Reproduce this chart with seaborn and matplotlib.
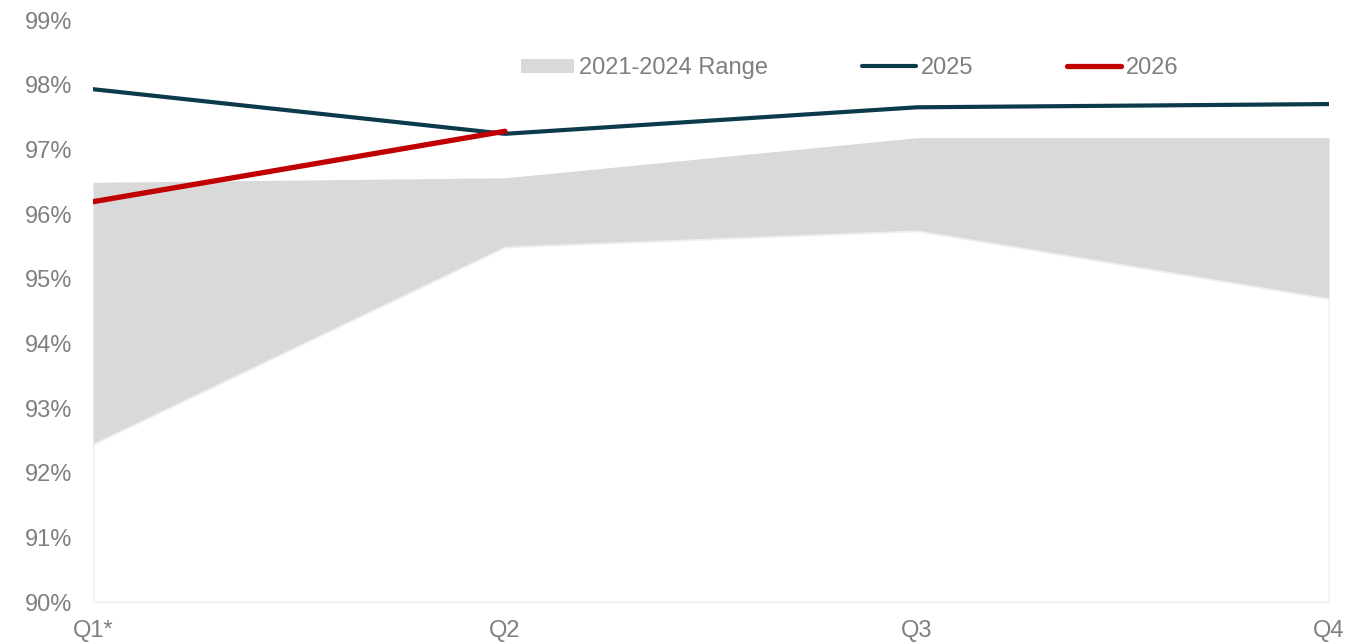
import matplotlib
matplotlib.use("Agg")
import matplotlib.pyplot as plt
import seaborn as sns
import pandas as pd
from matplotlib.patches import Patch
from matplotlib.lines import Line2D

quarters = ["Q1*", "Q2", "Q3", "Q4"]
range_low = [92.44, 95.49, 95.74, 94.69]
range_high = [96.49, 96.56, 97.18, 97.18]
values_2025 = [97.93, 97.24, 97.65, 97.70]
values_2026 = [96.19, 97.28]

sns.set_style("white")
plt.rcParams["font.family"] = ["Liberation Sans", "DejaVu Sans"]

TEXT = "#7f7f7f"
GRID = "#efefef"
C_RANGE = "#d9d9d9"
C_2025 = "#0b3a4b"
C_2026 = "#c00000"

pos = list(range(len(quarters)))
df25 = pd.DataFrame({"pos": pos, "value": values_2025})
df26 = pd.DataFrame({"pos": pos[:len(values_2026)], "value": values_2026})

fig = plt.figure(figsize=(13.68, 6.43), dpi=100)
ax = fig.add_axes([93 / 1368, 1 - 602 / 643, (1329 - 93) / 1368, (602 - 20) / 643])

# historical range band, with the area below it outlined faintly
ax.fill_between(pos, range_low, range_high, color=C_RANGE, lw=0, zorder=1)
ax.fill_between(pos, 90, range_low, facecolor="white", edgecolor=GRID, lw=1.3, zorder=1.5)

sns.lineplot(data=df25, x="pos", y="value", ax=ax, color=C_2025, lw=3.0,
             solid_capstyle="round", zorder=3)
sns.lineplot(data=df26, x="pos", y="value", ax=ax, color=C_2026, lw=3.8,
             solid_capstyle="round", zorder=4)

ax.set_xlim(0, 3)
ax.set_ylim(90, 99)
ax.set_yticks(range(90, 100))
ax.set_yticklabels([f"{v}%" for v in range(90, 100)])
ax.set_xticks(pos)
ax.set_xticklabels(quarters)
ax.set_xlabel("")
ax.set_ylabel("")

for s in ax.spines.values():
    s.set_visible(False)
ax.tick_params(axis="y", length=0, pad=15, labelsize=17, labelcolor=TEXT)
ax.tick_params(axis="x", length=7, width=1.2, color=GRID, pad=6, labelsize=17,
               labelcolor=TEXT)
for lbl in ax.get_xticklabels():
    lbl.set_clip_on(False)

handles = [
    Patch(facecolor=C_RANGE, edgecolor="none", label="2021-2024 Range"),
    Line2D([], [], color=C_2025, lw=3.0, solid_capstyle="round", label="2025"),
    Line2D([], [], color=C_2026, lw=3.8, solid_capstyle="round", label="2026"),
]
fig.legend(handles=handles, loc="center", bbox_to_anchor=(0.621, 0.894), ncol=3,
           frameon=False, fontsize=17, labelcolor=TEXT, handlelength=2.26,
           handleheight=0.55, handletextpad=0.2, columnspacing=4.0)

fig.savefig("out.png", dpi=100, facecolor="white")
